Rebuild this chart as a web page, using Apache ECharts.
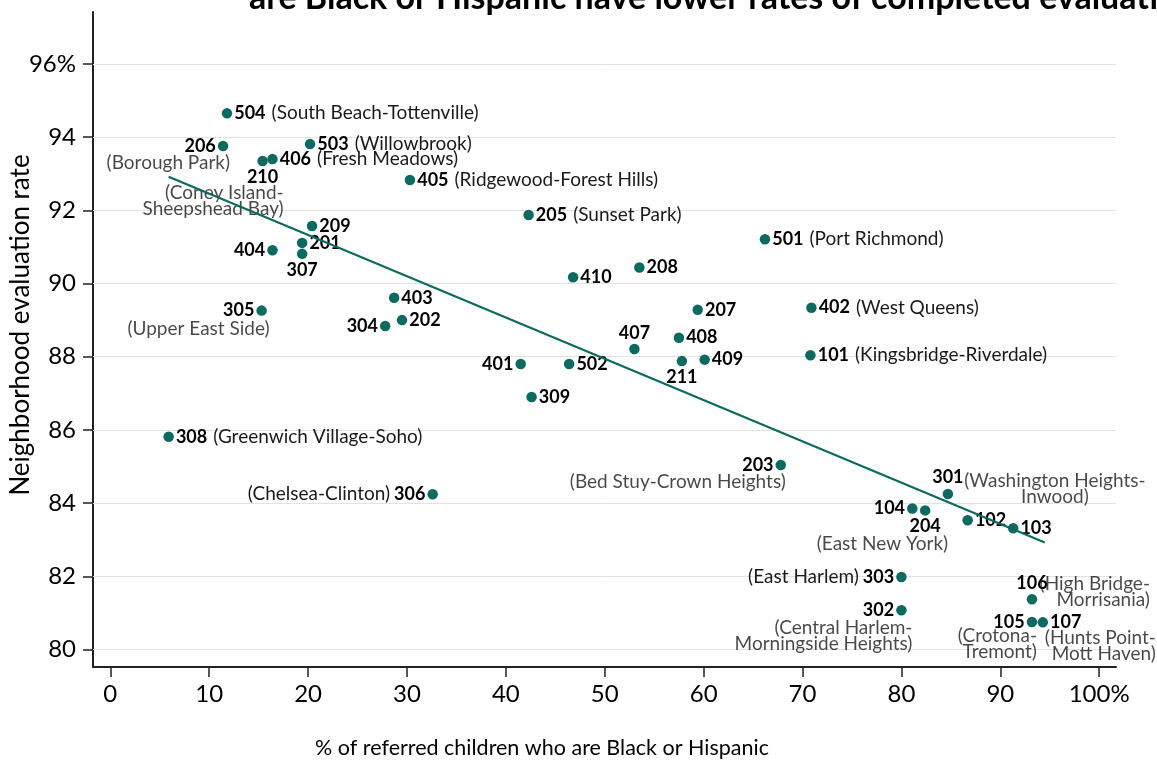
<!DOCTYPE html>
<html>
<head>
<meta charset="utf-8">
<title>Evaluation rate by neighborhood</title>
<script src="https://cdn.jsdelivr.net/npm/echarts@6.0.0/dist/echarts.min.js"></script>
<style>
  html, body { margin: 0; padding: 0; background: #fff; }
  #chart { width: 1157px; height: 766px; }
</style>
</head>
<body>
<div id="chart"></div>
<script>
// community districts: code, % of referred children Black or Hispanic, evaluation rate
const districts = ['504','206','210','406','503','405','205','209','201','307','404','501','410','208','403','305','304','202','207','402','407','408','211','409','101','401','502','309','308','306','203','301','104','204','102','103','303','302','106','105','107'];
const pctBlackHispanic = [11.8, 11.4, 15.4, 16.4, 20.2, 30.3, 42.3, 20.4, 19.4, 19.4, 16.4, 66.2, 46.8, 53.5, 28.7, 15.3, 27.8, 29.5, 59.4, 70.9, 53.0, 57.5, 57.8, 60.1, 70.8, 41.5, 46.4, 42.6, 5.9, 32.6, 67.8, 84.7, 81.1, 82.4, 86.7, 91.3, 80.0, 80.0, 93.2, 93.2, 94.3];
const evalRate = [94.65, 93.76, 93.35, 93.40, 93.81, 92.83, 91.87, 91.57, 91.11, 90.81, 90.91, 91.21, 90.17, 90.44, 89.61, 89.26, 88.84, 89.00, 89.28, 89.34, 88.21, 88.52, 87.88, 87.92, 88.04, 87.80, 87.80, 86.90, 85.81, 84.24, 85.04, 84.25, 83.85, 83.80, 83.53, 83.31, 81.98, 81.07, 81.37, 80.75, 80.74];
const districtNames = {
  '504': 'South Beach-Tottenville', '206': 'Borough Park', '210': 'Coney Island-Sheepshead Bay',
  '406': 'Fresh Meadows', '503': 'Willowbrook', '405': 'Ridgewood-Forest Hills', '205': 'Sunset Park',
  '501': 'Port Richmond', '305': 'Upper East Side', '402': 'West Queens', '101': 'Kingsbridge-Riverdale',
  '308': 'Greenwich Village-Soho', '306': 'Chelsea-Clinton', '203': 'Bed Stuy-Crown Heights',
  '301': 'Washington Heights-Inwood', '204': 'East New York', '303': 'East Harlem',
  '302': 'Central Harlem-Morningside Heights', '106': 'High Bridge-Morrisania',
  '105': 'Crotona-Tremont', '107': 'Hunts Point-Mott Haven'
};

const xTicks = [0, 10, 20, 30, 40, 50, 60, 70, 80, 90, 100];
const yTicks = [80, 82, 84, 86, 88, 90, 92, 94, 96];

// fitted line endpoints
const fitX = [5.9, 94.5];
const fitY = [92.92, 82.92];

// ---- label layout (styling only) ----
const codeSide = {
  '206': 'left', '404': 'left', '305': 'left', '304': 'left', '401': 'left', '306': 'left',
  '203': 'left', '104': 'left', '303': 'left', '302': 'left', '105': 'left',
  '210': 'bottom', '307': 'bottom', '211': 'bottom', '204': 'bottom',
  '407': 'top', '301': 'top', '106': 'top'
};
// names drawn apart from the code: [dx, dy] of the text anchor from the dot
const nameAnchor = {
  '206': [7, 17], '210': [21, 40], '305': [8, 18], '203': [5, 17], '301': [107, -5],
  '204': [23, 33], '302': [11, 26], '106': [118, -7], '105': [5, 22], '107': [113, 24]
};
const nameAlign = { '301': 'center' };
const wrapped = ['210', '301', '302', '106', '105', '107'];

const teal = '#0c6a61';
const font = 'Lato, "Open Sans", sans-serif';

const chart = echarts.init(document.getElementById('chart'));

const pointData = districts.map((c, i) => ({
  value: [pctBlackHispanic[i], evalRate[i]],
  label: { position: codeSide[c] || 'right' }
}));

const nameData = districts
  .map((c, i) => ({ c, i }))
  .filter(d => nameAnchor[d.c])
  .map(d => {
    let txt = '(' + districtNames[d.c] + ')';
    if (wrapped.includes(d.c)) txt = txt.replace('-', '-\n');
    return {
      name: txt,
      value: [pctBlackHispanic[d.i], evalRate[d.i]],
      label: { offset: nameAnchor[d.c], align: nameAlign[d.c] || 'right' }
    };
  });

const option = {
  animation: false,
  textStyle: { fontFamily: font },
  grid: { left: 93, right: 41, top: 12, bottom: 99, outerBoundsMode: 'none', containLabel: false },
  graphic: [
    {
      type: 'text', left: 249, top: -19,
      style: {
        text: 'are Black or Hispanic have lower rates of completed evaluations',
        font: 'bold 34px ' + font, fill: '#000'
      }
    },
    {
      type: 'text', x: 542, y: 748,
      style: {
        text: '% of referred children who are Black or Hispanic',
        font: '21.5px ' + font, fill: '#000', align: 'center', verticalAlign: 'middle'
      }
    },
    {
      type: 'text', x: 21, y: 325, rotation: Math.PI / 2,
      style: {
        text: 'Neighborhood evaluation rate',
        font: '26px ' + font, fill: '#000', align: 'center', verticalAlign: 'middle'
      }
    }
  ],
  xAxis: {
    type: 'value', min: -1.75, max: 101.7,
    axisLine: { show: true, onZero: false, lineStyle: { color: '#222', width: 2 } },
    axisTick: { show: true, customValues: xTicks, length: 10, lineStyle: { color: '#222', width: 1.5 } },
    axisLabel: {
      customValues: xTicks, margin: 15, fontSize: 24, color: '#000', fontFamily: font,
      formatter: v => (v === 100 ? '100%' : String(v))
    },
    splitLine: { show: false }
  },
  yAxis: {
    type: 'value', min: 79.52, max: 97.42,
    axisLine: { show: true, onZero: false, lineStyle: { color: '#222', width: 2 } },
    axisTick: { show: true, customValues: yTicks, length: 10, lineStyle: { color: '#222', width: 1.5 } },
    axisLabel: {
      customValues: yTicks, margin: 17, fontSize: 24, color: '#000', fontFamily: font,
      formatter: v => (v === 96 ? '96%' : String(v))
    },
    splitLine: { show: false }
  },
  series: [
    {
      type: 'scatter', data: [], z: 1, silent: true,
      markLine: {
        z: 1, silent: true, symbol: ['none', 'none'], label: { show: false },
        lineStyle: { color: '#e2e2e2', width: 1, type: 'solid' },
        emphasis: { disabled: true },
        data: yTicks.map(v => ({ yAxis: v }))
      }
    },
    {
      type: 'scatter', z: 3, symbolSize: 10.5,
      itemStyle: { color: teal, opacity: 1 },
      data: pointData,
      label: {
        show: true, distance: 2,
        formatter: p => {
          const c = districts[p.dataIndex];
          const n = districtNames[c];
          if (!n || nameAnchor[c]) return '{c|' + c + '}';
          const side = codeSide[c] || 'right';
          return side === 'left'
            ? '{nl|(' + n + ')}{c|' + c + '}'
            : '{c|' + c + '}{nr|(' + n + ')}';
        },
        rich: {
          c: { fontFamily: font, fontWeight: 'bold', fontSize: 18, color: '#000' },
          nr: { fontFamily: font, fontSize: 19, color: '#1a1a1a', padding: [0, 0, 0, 6] },
          nl: { fontFamily: font, fontSize: 19, color: '#1a1a1a', padding: [0, 4, 0, 0] }
        }
      }
    },
    {
      type: 'scatter', z: 3, symbolSize: 1, silent: true,
      itemStyle: { color: 'transparent' },
      data: nameData,
      label: {
        show: true, position: 'inside', verticalAlign: 'middle',
        fontFamily: font, fontSize: 19, lineHeight: 16, color: '#1a1a1a',
        formatter: p => p.name
      }
    },
    {
      type: 'line', z: 4, showSymbol: false, silent: true,
      lineStyle: { color: teal, width: 2.2 },
      data: fitX.map((x, i) => [x, fitY[i]])
    }
  ]
};

chart.setOption(option);
</script>
</body>
</html>
